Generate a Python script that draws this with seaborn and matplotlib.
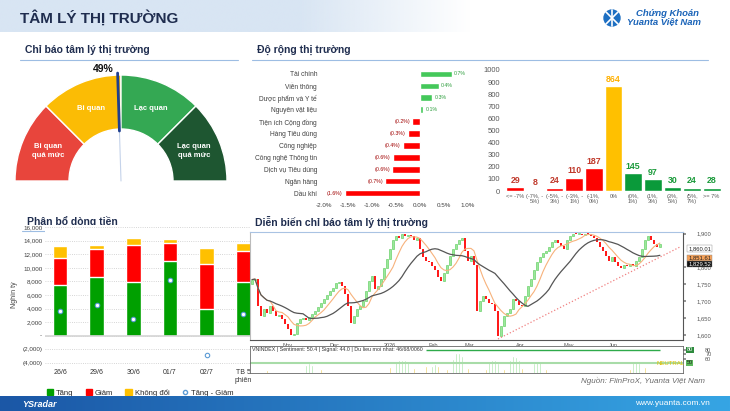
import numpy as np
import pandas as pd
import seaborn as sns
import matplotlib.pyplot as plt
from matplotlib.patches import Wedge, Patch, Circle
from matplotlib.lines import Line2D
from matplotlib.colors import to_rgb
from matplotlib.ticker import FuncFormatter

# --- gauge: market sentiment indicator
gauge_labels = ['Bi quan\nquá mức', 'Bi quan', 'Lạc quan', 'Lạc quan\nquá mức']
gauge_colors = ['#e8453c', '#fbbc05', '#34a853', '#1e5631']
sentiment_pct = 49

# --- sector performance (%)
sectors = ['Tài chính', 'Viễn thông', 'Dược phẩm và Y tế', 'Nguyên vật liệu',
           'Tiện ích Cộng đồng', 'Hàng Tiêu dùng', 'Công nghiệp',
           'Công nghệ Thông tin', 'Dịch vụ Tiêu dùng', 'Ngân hàng', 'Dầu khí']
sector_chg = [0.66, 0.39, 0.26, 0.06, -0.16, -0.26, -0.36, -0.56, -0.58, -0.72, -1.56]

# --- market breadth: number of stocks per return bucket
bins = ['<= -7%', '(-7%, -5%)', '(-5%, -3%)', '(-3%, -1%)', '(-1%, 0%)', '0%',
        '(0%, 1%)', '(1%, 3%)', '(3%, 5%)', '(5%, 7%)', '>= 7%']
bin_ticks = ['<= -7%', '(-7%, -\n5%)', '(-5%, -\n3%)', '(-3%, -\n1%)', '(-1%,\n0%)', '0%',
             '(0%,\n1%)', '(1%,\n3%)', '(3%,\n5%)', '(5%,\n7%)', '>= 7%']
bin_counts = [29, 8, 24, 110, 187, 864, 145, 97, 30, 24, 28]

# --- money flow (bn VND)
days = ['26/6', '29/6', '30/6', '01/7', '02/7', 'TB 5\nphiên']
flow_up = [7500, 8630, 7890, 10930, 3870, 7840]
flow_down = [3920, 4120, 5440, 2700, 6720, 4650]
flow_flat = [1720, 680, 1130, 590, 2350, 1150]

# --- VNINDEX closes (one point every ~1.4 sessions)
vn_close = [1764, 1767, 1686, 1657, 1677, 1666, 1686, 1672, 1657, 1660,
            1648, 1633, 1618, 1600, 1603, 1636, 1648, 1651, 1645, 1654,
            1663, 1672, 1683, 1695, 1707, 1719, 1731, 1740, 1755, 1758,
            1746, 1722, 1686, 1636, 1657, 1677, 1686, 1701, 1731, 1761,
            1776, 1737, 1746, 1767, 1797, 1826, 1856, 1880, 1892, 1886,
            1898, 1892, 1895, 1892, 1880, 1886, 1856, 1832, 1820, 1815,
            1803, 1791, 1773, 1761, 1785, 1806, 1835, 1856, 1868, 1880,
            1886, 1850, 1820, 1835, 1806, 1672, 1701, 1716, 1707, 1695,
            1692, 1672, 1597, 1627, 1657, 1666, 1677, 1707, 1701, 1689,
            1686, 1716, 1746, 1767, 1791, 1815, 1832, 1844, 1850, 1862,
            1874, 1880, 1871, 1865, 1856, 1880, 1892, 1900, 1898, 1900,
            1895, 1900, 1898, 1892, 1886, 1874, 1862, 1850, 1835, 1820,
            1832, 1815, 1803, 1797, 1806, 1803, 1809, 1803, 1820, 1832,
            1856, 1880, 1892, 1880, 1868, 1862, 1868]
vn_first_open = 1750
month_labels = ['Nov', 'Dec', '2026', 'Feb', 'Mar', 'Apr', 'May', 'Jun']
month_pos = [10, 26, 44, 59, 71, 88, 104, 119]
trend_pos = [82, 143]
trend_val = [1588, 1862]

# --- sentiment histogram under the price chart
sent_green_pos = [18, 19, 20, 48, 49, 50, 51, 52, 60, 61, 67, 68, 69, 70,
                  79, 80, 81, 82, 86, 87, 88, 89, 94, 95, 96, 127, 128, 129]
sent_green_val = [45, 50, 45, 52, 56, 57, 56, 52, 44, 47, 60, 72, 74, 66,
                  52, 58, 56, 50, 58, 66, 64, 56, 50, 55, 53, 52, 55, 50]
sent_yellow_pos = [5, 23, 46, 54, 58, 62, 65, 72, 78, 84, 90, 98, 126, 131]
sent_yellow_val = [35, 36, 40, 38, 42, 43, 36, 38, 37, 36, 38, 37, 36, 40]

W, H = 730, 411
sns.set_theme(style='white')
plt.rcParams['font.family'] = ['Liberation Sans', 'DejaVu Sans']
TITLE = '#1f2d4f'

fig = plt.figure(figsize=(W / 100, H / 100), dpi=100)


def ax_px(x0, y0, x1, y1, **kw):
    return fig.add_axes([x0 / W, 1 - y1 / H, (x1 - x0) / W, (y1 - y0) / H], **kw)


# background / header
bg = fig.add_axes([0, 0, 1, 1], zorder=0)
bg.set_xlim(0, W)
bg.set_ylim(H, 0)
bg.axis('off')
grad = np.zeros((2, 300, 4))
grad[..., :3] = to_rgb('#d8e5f3')
grad[..., 3] = np.clip((300 - np.arange(300)) / 110, 0, 1)
bg.imshow(grad, extent=(0, 470, 32, 0), aspect='auto', interpolation='bilinear')
bg.text(20, 18, 'TÂM LÝ THỊ TRƯỜNG', fontsize=11, fontweight='bold', color=TITLE, va='center')
bg.add_patch(Circle((612, 18), 8, color='#1d6fc2'))
bg.plot([606, 618], [12, 24], color='white', lw=1.2)
bg.plot([618, 606], [12, 24], color='white', lw=1.2)
bg.plot([612, 612], [10, 26], color='white', lw=1.2)
bg.text(636, 14, 'Chứng Khoán', fontsize=6.8, style='italic', fontweight='bold', color='#1b64b8', va='center')
bg.text(627, 21.5, 'Yuanta Việt Nam', fontsize=6.8, style='italic', fontweight='bold', color='#1b64b8', va='center')

for x0, x1, y, txt in [(20, 238, 60, 'Chỉ báo tâm lý thị trường'),
                       (252, 708, 60, 'Độ rộng thị trường'),
                       (22, 238, 231, 'Phân bổ dòng tiền')]:
    bg.plot([x0, x1], [y, y], color='#9dbde3', lw=0.8)
    bg.text(x0 + 5, y - 10, txt, fontsize=7.5, fontweight='bold', color=TITLE, va='center', zorder=5)
bg.text(255, 222, 'Diễn biến chỉ báo tâm lý thị trường', fontsize=7.5, fontweight='bold',
        color=TITLE, va='center')
bg.text(705, 381, 'Nguồn: FiinProX, Yuanta Việt Nam', fontsize=5.8, style='italic',
        color='#6b6b6b', ha='right', va='center')

# gauge
gx = ax_px(10, 62, 235, 200)
gx.set_xlim(-111, 114)
gx.set_ylim(-19, 119)
gx.axis('off')
for k, (lab, col) in enumerate(zip(gauge_labels, gauge_colors)):
    t1, t2 = 180 - (k + 1) * 45, 180 - k * 45
    gx.add_patch(Wedge((0, 0), 106, t1, t2, width=54, fc=col, ec='white', lw=1))
    mid = np.deg2rad((t1 + t2) / 2)
    gx.text(79 * np.cos(mid), 79 * np.sin(mid), lab, ha='center', va='center',
            color='white', fontsize=5.5, fontweight='bold', linespacing=1.4)
ang = np.deg2rad(180 - sentiment_pct * 1.8)
gx.plot([0, 52 * np.cos(ang)], [0, 52 * np.sin(ang)], color='#c5d3ea', lw=0.8)
gx.plot([50 * np.cos(ang), 108 * np.cos(ang)],
        [50 * np.sin(ang), 108 * np.sin(ang)], color='#1f3f8f', lw=2)
gx.text(-18, 112, f'{sentiment_pct}%', ha='center', va='center', fontsize=7.5, fontweight='bold', color='#111')

# sector performance
sx = ax_px(324, 68, 468, 199)
sec_cols = ['#44c85a' if v > 0 else '#ff0000' for v in sector_chg]
sns.barplot(x=sector_chg, y=sectors, hue=sectors, palette=sec_cols, legend=False,
            orient='h', width=0.56, saturation=1, ax=sx)
sx.set_xlim(-2.0, 1.0)
sx.set_ylim(10.5, -0.5)
sx.set_xticks(np.arange(-2.0, 1.01, 0.5))
sx.xaxis.set_major_formatter(FuncFormatter(lambda v, p: f'{v:.1f}%'))
sx.tick_params(axis='x', labelsize=4.5, length=0, pad=3, labelcolor='#404040')
sx.tick_params(axis='y', labelsize=4.8, length=0, pad=5, labelcolor='#404040')
sx.set_xlabel('')
sx.set_ylabel('')
sns.despine(ax=sx, left=True, bottom=True)
for i, v in enumerate(sector_chg):
    if v > 0:
        sx.text(v + 0.05, i, f'{v:.1f}%', fontsize=3.8, color='#2e9e3e', va='center')
    else:
        sx.text(v - 0.05, i, f'({-v:.1f}%)', fontsize=3.8, color='#a00000', va='center', ha='right')

# return buckets
hx = ax_px(505.5, 70, 721.5, 191)
bin_cols = ['#ff0000'] * 5 + ['#ffc000'] + ['#0a9a3a'] * 5
lab_cols = ['#c0392b'] * 5 + ['#ffb000'] + ['#1a9a3a'] * 5
sns.barplot(x=bins, y=bin_counts, hue=bins, palette=bin_cols, legend=False,
            width=0.9, saturation=1, ax=hx)
hx.set_ylim(0, 1000)
hx.set_yticks(range(0, 1001, 100))
hx.set_xticks(range(len(bins)))
hx.set_xticklabels(bin_ticks, linespacing=0.95)
hx.tick_params(axis='y', labelsize=5.5, length=0, pad=4, labelcolor='#595959')
hx.tick_params(axis='x', labelsize=4.1, length=0, pad=2, labelcolor='#595959')
hx.set_xlabel('')
hx.set_ylabel('')
sns.despine(ax=hx, left=True, bottom=True)
for i, c in enumerate(bin_counts):
    hx.text(i, c + 22, str(c), ha='center', va='bottom', fontsize=6.3, fontweight='bold', color=lab_cols[i])

# money flow
mf = ax_px(45, 225, 250, 365)
up = np.array(flow_up)
upd = up + np.array(flow_down)
tot = upd + np.array(flow_flat)
net = up - np.array(flow_down)
mf.yaxis.grid(True, linestyle=':', color='#c8c8c8', lw=0.6)
mf.set_axisbelow(True)
sns.barplot(x=days, y=tot, color='#ffc000', width=0.4, saturation=1, errorbar=None, ax=mf)
sns.barplot(x=days, y=upd, color='#ff0000', width=0.4, saturation=1, errorbar=None, ax=mf)
sns.barplot(x=days, y=up, color='#00a000', width=0.4, saturation=1, errorbar=None, ax=mf)
sns.stripplot(x=days, y=net, jitter=False, color='white', edgecolor='#5b9bd5',
              linewidth=0.8, size=3.2, ax=mf, zorder=5)
mf.axhline(0, color='#d4d4d4', lw=1.2, zorder=1)
mf.set_xlim(-0.41, 5.18)
mf.set_ylim(-4300, 16300)
mf.set_yticks(range(-4000, 16001, 2000))
mf.yaxis.set_major_formatter(FuncFormatter(
    lambda v, p: '-' if v == 0 else (f'({abs(v):,.0f})' if v < 0 else f'{v:,.0f}')))
mf.tick_params(axis='y', labelsize=4.5, length=0, pad=2, labelcolor='#404040')
mf.tick_params(axis='x', labelsize=5, length=0, pad=3, labelcolor='#333333')
mf.set_xlabel('')
mf.set_ylabel('Nghìn tỷ', fontsize=5, color='#404040', labelpad=3)
sns.despine(ax=mf, left=True, bottom=True)
handles = [Patch(color='#00a000', label='Tăng'), Patch(color='#ff0000', label='Giảm'),
           Patch(color='#ffc000', label='Không đổi'),
           Line2D([], [], marker='o', ls='', mfc='white', mec='#5b9bd5', ms=3, label='Tăng - Giảm')]
fig.legend(handles=handles, loc='center left', bbox_to_anchor=(40 / W, 1 - 393 / H), ncol=4,
           frameon=False, fontsize=5.5, handlelength=0.8, handleheight=0.8,
           columnspacing=1.6, handletextpad=0.4)

# VNINDEX candles
cax = ax_px(250, 232, 683, 340, zorder=3)
cax.set_facecolor('white')
close = np.array(vn_close, dtype=float)
opn = np.r_[vn_first_open, close[:-1]]
idx = np.arange(len(close))
rising = close >= opn
body_lo = np.minimum(opn, close)
body_h = np.maximum(np.abs(close - opn), 3)
cax.bar(idx[rising], body_h[rising], bottom=body_lo[rising], width=0.7,
        color='#9be89b', edgecolor='#55c955', lw=0.4)
cax.bar(idx[~rising], body_h[~rising], bottom=body_lo[~rising], width=0.7,
        color='#ff1a1a', lw=0)
vn = pd.DataFrame({'i': idx, 'close': close})
vn['ma_fast'] = vn['close'].rolling(7, min_periods=1).mean()
vn['ma_slow'] = vn['close'].rolling(18, min_periods=1).mean()
sns.lineplot(data=vn, x='i', y='ma_fast', color='#f7b27c', lw=0.8, ax=cax)
sns.lineplot(data=vn, x='i', y='ma_slow', color='#555555', lw=0.9, ax=cax)
cax.plot(trend_pos, trend_val, color='#f08080', ls=':', lw=0.9)
cax.set_xlim(-0.67, 143.7)
cax.set_ylim(1585, 1905)
cax.yaxis.tick_right()
cax.set_yticks([1600, 1650, 1700, 1750, 1800, 1900])
cax.yaxis.set_major_formatter(FuncFormatter(lambda v, p: f'{v:,.0f}'))
cax.tick_params(axis='y', labelsize=4.2, length=2, pad=8, labelcolor='#555555', color='#888')
cax.set_xticks(month_pos)
cax.set_xticklabels(month_labels)
for t in cax.get_xticklabels():
    t.set_ha('left')
cax.tick_params(axis='x', labelsize=4, length=2, pad=0.5, labelcolor='#555555', color='#888')
cax.set_xlabel('')
cax.set_ylabel('')
for s, c in [('top', '#a9c3e3'), ('left', '#bbbbbb'), ('right', '#555555'), ('bottom', '#555555')]:
    cax.spines[s].set_color(c)
    cax.spines[s].set_linewidth(0.8)
for txt, yv, fc, tc in [('1,860.01', 1856, 'white', '#222'), ('1,851.61', 1828, '#f6a25a', '#222'),
                        ('1,829.52', 1810, '#111111', 'white')]:
    cax.text(1.012, (yv - 1585) / 320, txt, transform=cax.transAxes, fontsize=4.2, color=tc,
             va='center', ha='left', bbox=dict(boxstyle='square,pad=0.15', fc=fc, ec='#888', lw=0.3))

sax = ax_px(250, 346, 683, 373, zorder=3)
sax.bar(sent_green_pos, sent_green_val, width=0.6, color='#a8e6a8')
sax.bar(sent_yellow_pos, sent_yellow_val, width=0.6, color='#f0d060')
sax.hlines(80, 58, 136, color='#2eaa4a', lw=1)
sax.axhline(50, color='#a8dca8', lw=1.5)
sax.text(135, 48, 'NEUTRAL', fontsize=4.3, color='#e0c000', va='center')
sax.text(0.004, 0.95, 'VNINDEX | Sentiment: 50.4 | Signal: 44.0 | Du lieu moi nhat: 46/68/0060',
         transform=sax.transAxes, fontsize=3.8, va='top', color='#333333')
sax.set_xlim(-0.67, 143.7)
sax.set_ylim(27, 89)
sax.yaxis.tick_right()
sax.set_yticks([60, 70, 80])
sax.set_xticks([])
sax.tick_params(axis='y', labelsize=4, length=2, pad=14, labelcolor='#555555', color='#888')
for s in ['top', 'bottom', 'left', 'right']:
    sax.spines[s].set_color('#666666')
    sax.spines[s].set_linewidth(0.6)
sax.text(1.008, (80 - 27) / 62, '80', transform=sax.transAxes, fontsize=4, color='white', va='center',
         bbox=dict(boxstyle='square,pad=0.15', fc='#2e8b3e', ec='none'))
sax.text(1.008, (50 - 27) / 62, '50', transform=sax.transAxes, fontsize=4, color='#222', va='center',
         bbox=dict(boxstyle='square,pad=0.15', fc='#5cb85c', ec='none'))

# footer band
ft = fig.add_axes([0, 0, 1, 15 / H], zorder=10)
ft.set_xlim(0, W)
ft.set_ylim(15, 0)
ft.axis('off')
fg = np.zeros((2, 300, 3))
c0, c1 = np.array(to_rgb('#1b57a6')), np.array(to_rgb('#36a5e4'))
fg[:] = c0 + (c1 - c0) * np.linspace(0, 1, 300)[:, None]
ft.imshow(fg, extent=(0, W, 15, 0), aspect='auto')
ft.text(22, 8, 'YSradar', fontsize=6.5, style='italic', fontweight='bold', color='white', va='center')
ft.text(710, 7.5, 'www.yuanta.com.vn', fontsize=6, color='white', va='center', ha='right')

fig.savefig('out.png', dpi=100)
